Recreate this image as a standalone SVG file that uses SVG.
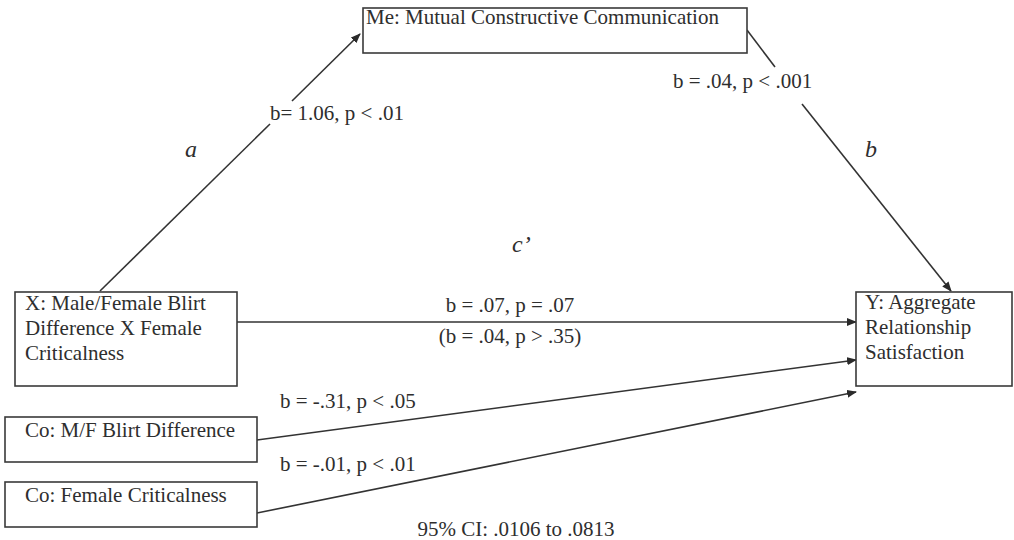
<svg xmlns="http://www.w3.org/2000/svg" width="1014" height="540" viewBox="0 0 1014 540">
<defs>
<marker id="ah" markerWidth="10" markerHeight="8" refX="9" refY="4" orient="auto" markerUnits="userSpaceOnUse">
<path d="M0,0 L10,4 L0,8 Z" fill="#2a2a2a"/>
</marker>
<style>
.box{fill:#fff;stroke:#3a3a3a;stroke-width:1.6}
.t{font-family:"Liberation Serif","Times New Roman",serif;font-size:21px;fill:#2e2e2e}
.l{font-family:"Liberation Serif","Times New Roman",serif;font-size:21px;fill:#2e2e2e}
.i{font-family:"Liberation Serif","Times New Roman",serif;font-size:24px;font-style:italic;fill:#2e2e2e}
.c{fill:none;stroke:#333;stroke-width:1.6}
</style>
</defs>
<rect width="1014" height="540" fill="#fff"/>
<g id="connectors">
<line class="c" x1="100" y1="291" x2="270" y2="124"/>
<line class="c" x1="292" y1="101" x2="360" y2="34" marker-end="url(#ah)"/>
<line class="c" x1="747" y1="30" x2="775" y2="67"/>
<line class="c" x1="802" y1="104" x2="951" y2="291" marker-end="url(#ah)"/>
<line class="c" x1="237" y1="322" x2="856" y2="322" marker-end="url(#ah)"/>
<line class="c" x1="257" y1="440" x2="856" y2="360" marker-end="url(#ah)"/>
<line class="c" x1="257" y1="513" x2="856" y2="392" marker-end="url(#ah)"/>
</g>
<g id="me">
<rect class="box" x="363" y="8" width="384" height="45"/>
<text class="t" x="366" y="24">Me: Mutual Constructive Communication</text>
</g>
<g id="x">
<rect class="box" x="15" y="292" width="222" height="94"/>
<text class="t" x="25" y="310">X: Male/Female Blirt</text>
<text class="t" x="25" y="335">Difference X Female</text>
<text class="t" x="25" y="360">Criticalness</text>
</g>
<g id="y">
<rect class="box" x="856" y="292" width="156" height="94"/>
<text class="t" x="865" y="309">Y: Aggregate</text>
<text class="t" x="865" y="334">Relationship</text>
<text class="t" x="865" y="359">Satisfaction</text>
</g>
<g id="co1">
<rect class="box" x="5" y="417" width="252" height="45"/>
<text class="t" x="25" y="437">Co: M/F Blirt Difference</text>
</g>
<g id="co2">
<rect class="box" x="5" y="482" width="252" height="45"/>
<text class="t" x="25" y="502">Co: Female Criticalness</text>
</g>
<g id="labels">
<text class="l" x="270" y="120">b= 1.06, p &lt; .01</text>
<text class="l" x="673" y="88">b = .04, p &lt; .001</text>
<text class="i" x="185" y="157">a</text>
<text class="i" x="865" y="157">b</text>
<text class="i" x="512" y="252">c’</text>
<text class="l" x="510" y="312" text-anchor="middle">b = .07, p = .07</text>
<text class="l" x="510" y="343" text-anchor="middle">(b = .04, p &gt; .35)</text>
<text class="l" x="280" y="408">b = -.31, p &lt; .05</text>
<text class="l" x="280" y="471">b = -.01, p &lt; .01</text>
<text class="l" x="516" y="536" text-anchor="middle">95% CI: .0106 to .0813</text>
</g>
</svg>
